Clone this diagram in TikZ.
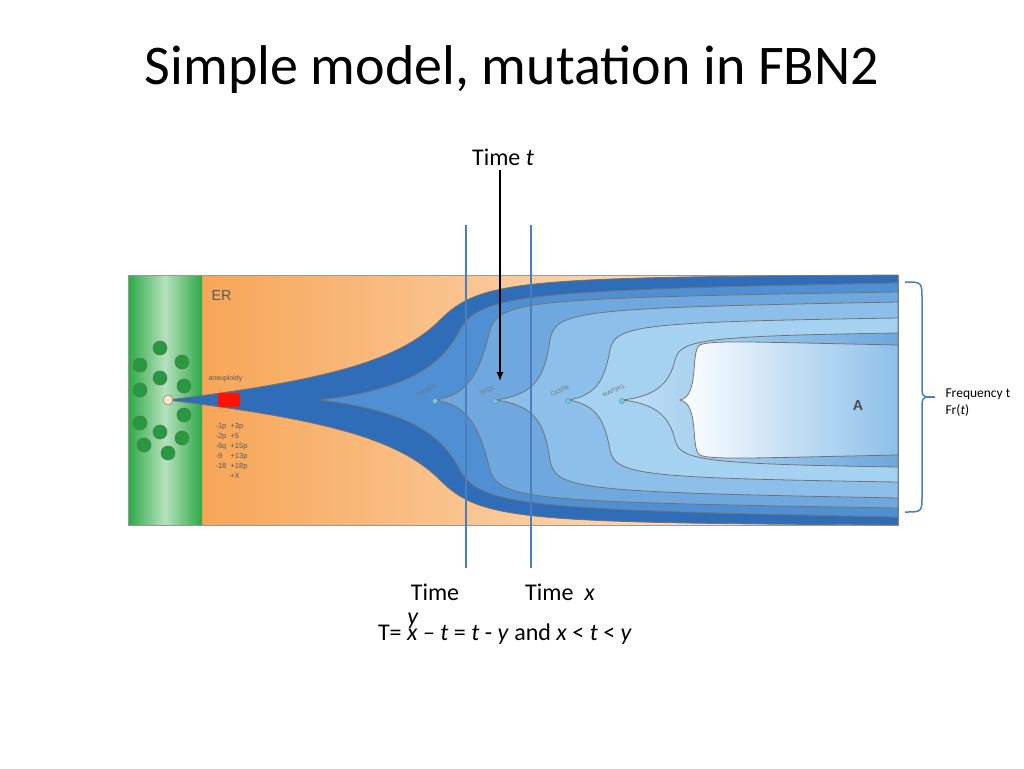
\documentclass[tikz,border=0pt]{standalone}
\usepackage{fontspec}
\setmainfont{Carlito}
\setsansfont{Liberation Sans}
\usetikzlibrary{positioning}
\definecolor{grn}{HTML}{2DAA46}
\definecolor{orng}{HTML}{F7A658}
\definecolor{peach}{HTML}{FDE6CC}
\definecolor{bluea}{HTML}{2F6DB8}
\definecolor{blueb}{HTML}{4F8FD3}
\definecolor{bluec}{HTML}{6EA8DE}
\definecolor{blued}{HTML}{8CC0EA}
\definecolor{bluee}{HTML}{A6D2F2}
\definecolor{bluef}{HTML}{BFE0F6}
\definecolor{linec}{HTML}{4A7EBF}
\tikzset{
  clone/.style={draw=black!55, line width=0.8pt},
  timeline/.style={draw=linec, line width=1.5pt},
  gene/.style={font=\sffamily\fontsize{6}{7}\selectfont, text=black!55, rotate=25, anchor=south},
  spot/.style={circle, fill=cyan!60, draw=black!50, inner sep=1.8pt},
  cell/.style={circle, fill=grn!90!black, draw=black!60, inner sep=5pt},
  lbl/.style={font=\fontsize{24}{28}\selectfont}
}
\begin{document}
\begin{tikzpicture}[x=1pt,y=-1pt]
\useasboundingbox (0,0) rectangle (1024,768);
% Title
\node[font=\fontsize{56}{64}\selectfont] (title) at (512,70) {Simple model, mutation in FBN2};
% Background panel
\shade[left color=orng, right color=peach!40] (202,275) rectangle (898,525);
\shade[left color=grn, right color=grn, middle color=grn!35] (128,275) rectangle (202,525);
\draw[black!40] (128,275) rectangle (898,525);
% Clones, nested from outer to inner
\draw[clone, fill=bluea] (168,400) .. controls (330,380) and (400,360) .. (440,320)
  .. controls (480,280) and (520,277) .. (898,275) -- (898,525)
  .. controls (520,523) and (480,520) .. (440,480) .. controls (400,440) and (330,420) .. (168,400) -- cycle;
\draw[clone, fill=blueb] (320,400) .. controls (400,390) and (440,370) .. (460,330)
  .. controls (480,295) and (520,290) .. (898,283) -- (898,517)
  .. controls (520,510) and (480,505) .. (460,470) .. controls (440,430) and (400,410) .. (320,400) -- cycle;
\draw[clone, fill=bluec] (435,400) .. controls (470,395) and (480,370) .. (490,330)
  .. controls (500,300) and (530,298) .. (898,292) -- (898,508)
  .. controls (530,502) and (500,500) .. (490,470) .. controls (480,430) and (470,405) .. (435,400) -- cycle;
\draw[clone, fill=blued] (495,400) .. controls (540,395) and (545,370) .. (550,340)
  .. controls (555,310) and (580,308) .. (898,302) -- (898,498)
  .. controls (580,492) and (555,490) .. (550,460) .. controls (545,430) and (540,405) .. (495,400) -- cycle;
\draw[clone, fill=bluee] (568,400) .. controls (600,395) and (605,375) .. (610,350)
  .. controls (615,325) and (640,322) .. (898,318) -- (898,482)
  .. controls (640,478) and (615,475) .. (610,450) .. controls (605,425) and (600,405) .. (568,400) -- cycle;
\shade[clone, left color=bluef, right color=bluec] (622,400) .. controls (660,396) and (670,380) .. (675,360)
  .. controls (680,340) and (700,336) .. (898,333) -- (898,467)
  .. controls (700,464) and (680,460) .. (675,440) .. controls (670,420) and (660,404) .. (622,400) -- cycle;
\shade[clone, left color=white, right color=blued] (680,400) .. controls (700,396) and (690,350) .. (700,345)
  .. controls (710,340) and (750,342) .. (898,345) -- (898,455)
  .. controls (750,458) and (710,460) .. (700,455) .. controls (690,450) and (700,404) .. (680,400) -- cycle;
% Founder, aneuploidy
\fill[red!85!orange] (218,393) rectangle (240,407);
\node[circle, fill=peach, draw=black!60, inner sep=3.5pt] (founder) at (168,400) {};
\foreach \cx/\cy in {160/348,140/365,182/362,160/378,140/390,184/386,184/415,140/423,160/432,182/438,144/445,168/453}
  \node[cell] at (\cx,\cy) {};
% Panel texts
\node[font=\sffamily\Large, text=black!65, anchor=west] (er) at (208,296) {ER};
\node[font=\sffamily\scriptsize, text=black!65, anchor=west] (aneu) at (205,379) {aneuploidy};
\node[font=\sffamily\fontsize{7.5}{10}\selectfont, text=black!65, anchor=north west, align=left] (karyo) at (212,420)
  {-1p\ \ +3p\\-2p\ \ +5\\-6q\ \ +15p\\-9\ \ \ \ +13p\\-18\ \ +18p\\\ \ \ \ \ \ \ +X};
\node[font=\sffamily\Large\bfseries, text=black!70] (clA) at (858,406) {A};
% Mutations
\foreach \mx/\gn in {435/PIK3CA,495/TP53,568/CASP8,622/MAP3K1} {
  \node[spot] (m\gn) at (\mx,401) {};
  \node[gene] at (\mx-6,396) {\gn};
}
% Time lines
\coordinate (ytop) at (466,225); \coordinate (ybot) at (466,568);
\coordinate (xtop) at (531,225); \coordinate (xbot) at (531,568);
\draw[timeline] (ytop) -- (ybot);
\draw[timeline] (xtop) -- (xbot);
\node[lbl] (tlab) at (503,157) {Time \textit{t}};
\coordinate (tend) at (500,381);
\draw[line width=2pt, -latex] (500,170) -- (tend);
% Frequency bracket
\draw[timeline] (905,282) .. controls (922,282) .. (922,300) -- (922,385) .. controls (922,397) .. (935,397)
  .. controls (922,397) .. (922,409) -- (922,495) .. controls (922,512) .. (905,512);
\node[font=\fontsize{13.5}{17}\selectfont, anchor=west, align=left] (freq) at (942,403) {Frequency t\\Fr(\textit{t})};
% Bottom texts
\node[lbl] (ylab) at (435,592) {Time};
\node[lbl] (ylab2) at (413,621) {\textit{y}};
\node[lbl] (xlab) at (560,592) {Time\ \ \textit{x}};
\node[lbl] (eq) at (505,634) {T= \textit{x} -- \textit{t} = \textit{t} - \textit{y} and \textit{x} < \textit{t} < \textit{y}};
\end{tikzpicture}
\end{document}
